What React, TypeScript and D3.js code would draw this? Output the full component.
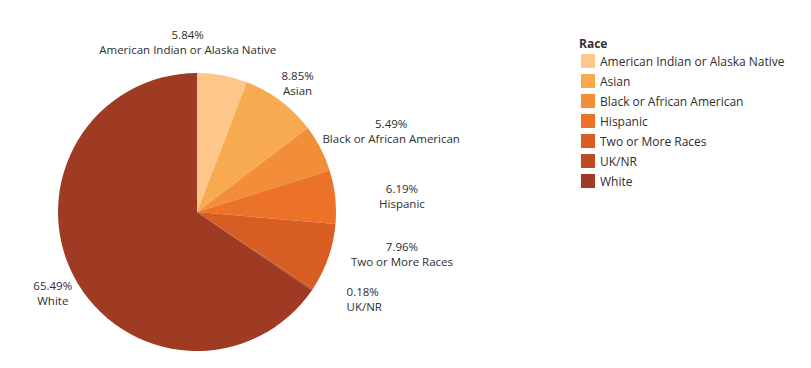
import React, { useEffect, useRef } from 'react';
import * as d3 from 'd3';

const races = [
    'American Indian or Alaska Native',
    'Asian',
    'Black or African American',
    'Hispanic',
    'Two or More Races',
    'UK/NR',
    'White',
];
const shares = [5.84, 8.85, 5.49, 6.19, 7.96, 0.18, 65.49];
const colors = ['#fdc78b', '#f7aa50', '#f28e37', '#eb7226', '#d85d23', '#bb4b26', '#9f3b22'];

// label tweaks relative to the outer arc centroid
const nudge: Record<string, [number, number]> = {
    'American Indian or Alaska Native': [-42, 6],
    Asian: [-7, 14],
    'Black or African American': [35, 1],
    Hispanic: [27, 3],
    'Two or More Races': [36, -17],
    'UK/NR': [1, -13],
    White: [14, -3],
};

const App = () => {
    const ref = useRef<SVGSVGElement | null>(null);

    useEffect(() => {
        const width = 811;
        const height = 368;
        const cx = 197;
        const cy = 212;
        const r = 139;
        const font = '"Open Sans", sans-serif';

        const svg = d3.select(ref.current);
        svg.selectAll('*').remove();

        const data = races.map((name, i) => ({ name, value: shares[i] }));
        const color = d3.scaleOrdinal<string, string>().domain(races).range(colors);

        const pie = d3.pie<{ name: string; value: number }>().sort(null).value((d) => d.value);
        const arcs = pie(data);
        const arc = d3.arc<d3.PieArcDatum<{ name: string; value: number }>>().innerRadius(0).outerRadius(r);
        const outer = d3
            .arc<d3.PieArcDatum<{ name: string; value: number }>>()
            .innerRadius(r + 40)
            .outerRadius(r + 40);

        const g = svg.append('g').attr('transform', `translate(${cx},${cy})`);

        g.selectAll('path')
            .data(arcs)
            .enter()
            .append('path')
            .attr('d', arc)
            .attr('fill', (d) => color(d.data.name));

        // slice labels
        const labels = g
            .selectAll('g.lbl')
            .data(arcs)
            .enter()
            .append('g')
            .attr('class', 'lbl')
            .attr('transform', (d) => {
                const [x, y] = outer.centroid(d);
                const [dx, dy] = nudge[d.data.name];
                return `translate(${x + dx},${y + dy})`;
            });

        labels.each(function (d) {
            const anchor = d.data.name === 'UK/NR' ? 'start' : 'middle';
            const sel = d3.select(this);
            sel.append('text')
                .attr('y', -3)
                .attr('text-anchor', anchor)
                .attr('font-family', font)
                .attr('font-size', 11.5)
                .attr('font-weight', 500)
                .attr('fill', '#2e2e2e')
                .text(d3.format('.2f')(d.data.value) + '%');
            sel.append('text')
                .attr('y', 12)
                .attr('text-anchor', anchor)
                .attr('font-family', font)
                .attr('font-size', 11.5)
                .attr('font-weight', 500)
                .attr('fill', '#2e2e2e')
                .text(d.data.name);
        });

        // legend
        const legend = svg.append('g').attr('transform', 'translate(579,0)');
        legend
            .append('text')
            .attr('x', 0)
            .attr('y', 48)
            .attr('font-family', font)
            .attr('font-size', 12)
            .attr('font-weight', 700)
            .attr('fill', '#333')
            .text('Race');

        const ly = d3.scaleBand().domain(races).range([51, 191]);
        const rows = legend
            .selectAll('g.row')
            .data(races)
            .enter()
            .append('g')
            .attr('class', 'row')
            .attr('transform', (d) => `translate(0,${ly(d)})`);
        rows.append('rect')
            .attr('x', 2)
            .attr('y', 3)
            .attr('width', 14)
            .attr('height', 14)
            .attr('fill', (d) => color(d));
        rows.append('text')
            .attr('x', 21)
            .attr('y', 14.5)
            .attr('font-family', font)
            .attr('font-size', 12)
            .attr('fill', '#2e2e2e')
            .text((d) => d);

        svg.attr('width', width).attr('height', height);
    }, []);

    return (
        <div style={{ margin: -8, background: '#fff' }}>
            <svg ref={ref} style={{ display: 'block' }}></svg>
        </div>
    );
};

export default App;
